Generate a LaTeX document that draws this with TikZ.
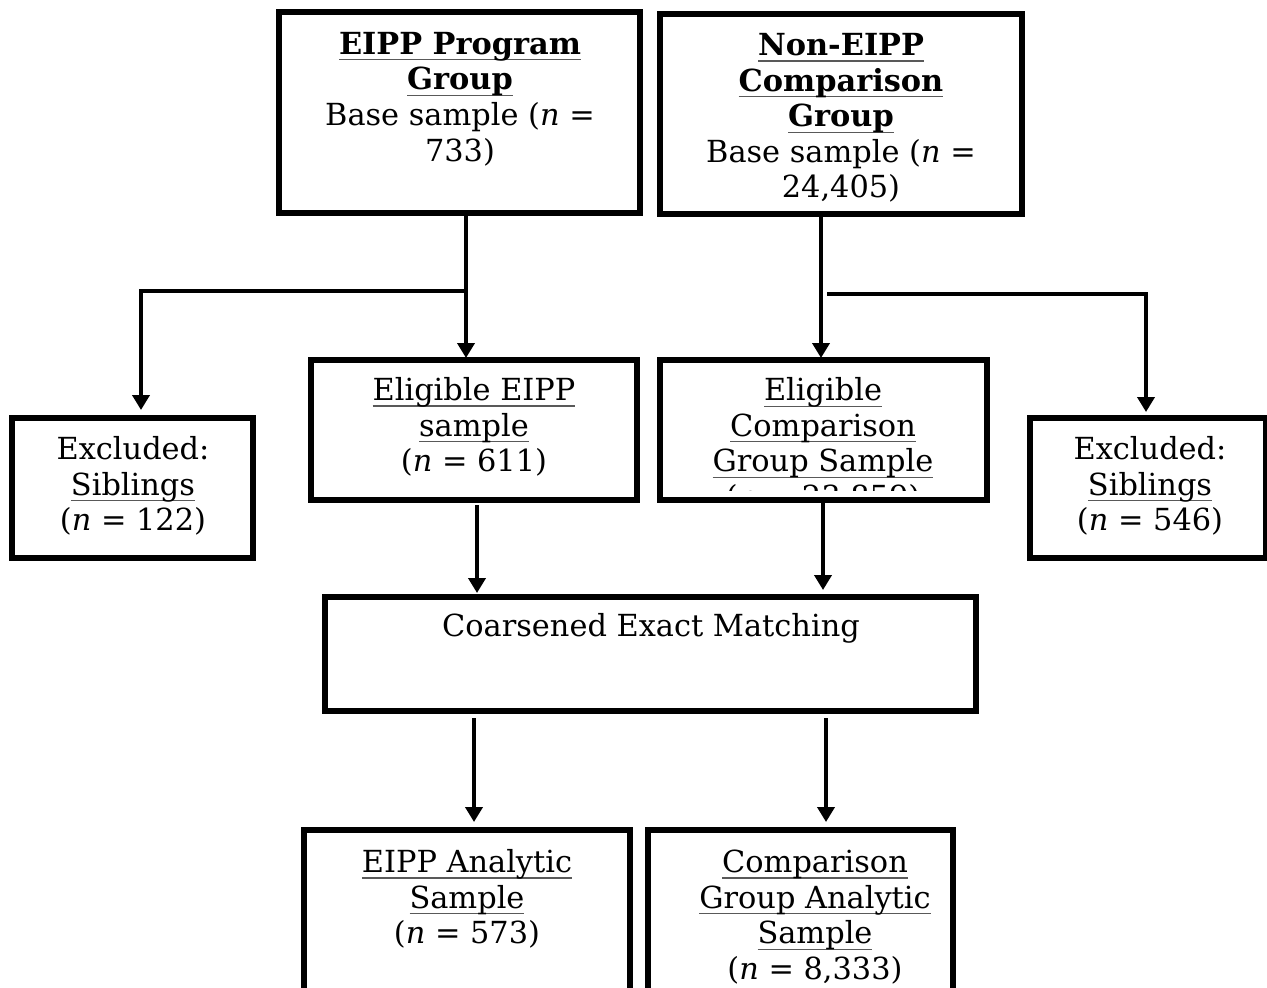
\documentclass[tikz,border=0pt]{standalone}
\usepackage{fontspec}
\setmainfont{DejaVu Serif}
\usetikzlibrary{arrows.meta,calc}
\newcommand{\ulx}[1]{\setbox0\hbox{#1}\rlap{\color{black!65}\rule[-3pt]{\wd0}{0.6pt}}\box0}
\newcommand{\mkbox}[5]{\node[box, minimum width={(#4-#2)*0.5pt}, minimum height={(#5-#3)*0.5pt}] (#1) at ({(#2+#4)/2},{(#3+#5)/2}) {};}
\begin{document}
\begin{tikzpicture}[x=0.5pt,y=-0.5pt,
  box/.style={draw, line width=2.8pt, rectangle, inner sep=0pt, outer sep=0pt},
  txt/.style={align=center, font=\fontsize{15.2}{17.8}\selectfont, inner sep=0pt},
  arr/.style={line width=2.4pt, -{Triangle[width=8.5pt,length=7.5pt]}}]
\useasboundingbox (0,0) rectangle (1267,987);
\clip (0,0) rectangle (1267,987);
% boxes
\mkbox{eipp}{279}{12}{640}{213}
\mkbox{non}{660}{14}{1022}{214}
\mkbox{elig}{311}{360}{637}{500}
\mkbox{eligc}{660}{360}{987}{500}
\mkbox{exl}{12}{418}{253}{558}
\mkbox{exr}{1030}{418}{1266}{558}
\mkbox{cem}{325}{597}{976}{711}
\mkbox{anl}{304}{830}{630}{1000}
\mkbox{anr}{648}{830}{953}{1000}
% texts
\node[txt] (teipp) at (460,99) {\ulx{\textbf{EIPP Program}}\\\ulx{\textbf{Group}}\\Base sample (\textit{n} =\\733)};
\node[txt] (tnon) at (841,118) {\ulx{\textbf{Non-EIPP}}\\\ulx{\textbf{Comparison}}\\\ulx{\textbf{Group}}\\Base sample (\textit{n} =\\24,405)};
\node[txt] (telig) at (474,427) {\ulx{Eligible EIPP}\\\ulx{sample}\\(\textit{n} = 611)};
\begin{scope}
\clip ([yshift=-2pt]eligc.north west) rectangle ([yshift=5pt]eligc.south east);
\node[txt] (teligc) at (823,445) {\ulx{Eligible}\\\ulx{Comparison}\\\ulx{Group Sample}\\(\textit{n} = 23,859)};
\end{scope}
\node[txt] (texl) at (133,486) {Excluded:\\\ulx{Siblings}\\(\textit{n} = 122)};
\node[txt] (texr) at (1150,486) {Excluded:\\\ulx{Siblings}\\(\textit{n} = 546)};
\node[txt] (tcem) at (651,628) {Coarsened Exact Matching};
\node[txt] (tanl) at (467,899) {\ulx{EIPP Analytic}\\\ulx{Sample}\\(\textit{n} = 573)};
\node[txt] (tanr) at (815,917) {\ulx{Comparison}\\\ulx{Group Analytic}\\\ulx{Sample}\\(\textit{n} = 8,333)};
% connectors
\coordinate (bl) at ($(eipp.south)+(6.5,78)$);
\coordinate (br) at ($(non.south)+(-14,80)$);
\draw[arr] ([xshift=3.25pt]eipp.south) -- ([xshift=-4pt,yshift=1pt]elig.north);
\draw[arr] (bl) -| ([xshift=4.25pt,yshift=4pt]exl.north);
\draw[arr] ([xshift=-10pt]non.south) -- ([xshift=-1.25pt,yshift=1pt]eligc.north);
\draw[arr] (br) -| ([xshift=-1pt,yshift=3pt]exr.north);
\draw[arr] ([xshift=1.5pt,yshift=-2.5pt]elig.south) -- ([xshift=-86.75pt,yshift=2pt]cem.north);
\draw[arr] ([xshift=-0.25pt,yshift=-1.5pt]eligc.south) -- ([xshift=86.25pt,yshift=3.5pt]cem.north);
\draw[arr] ([xshift=-88.25pt,yshift=-3.5pt]cem.south) -- ([xshift=3.5pt,yshift=4pt]anl.north);
\draw[arr] ([xshift=87.75pt,yshift=-3.5pt]cem.south) -- ([xshift=12.75pt,yshift=4pt]anr.north);
\end{tikzpicture}
\end{document}
